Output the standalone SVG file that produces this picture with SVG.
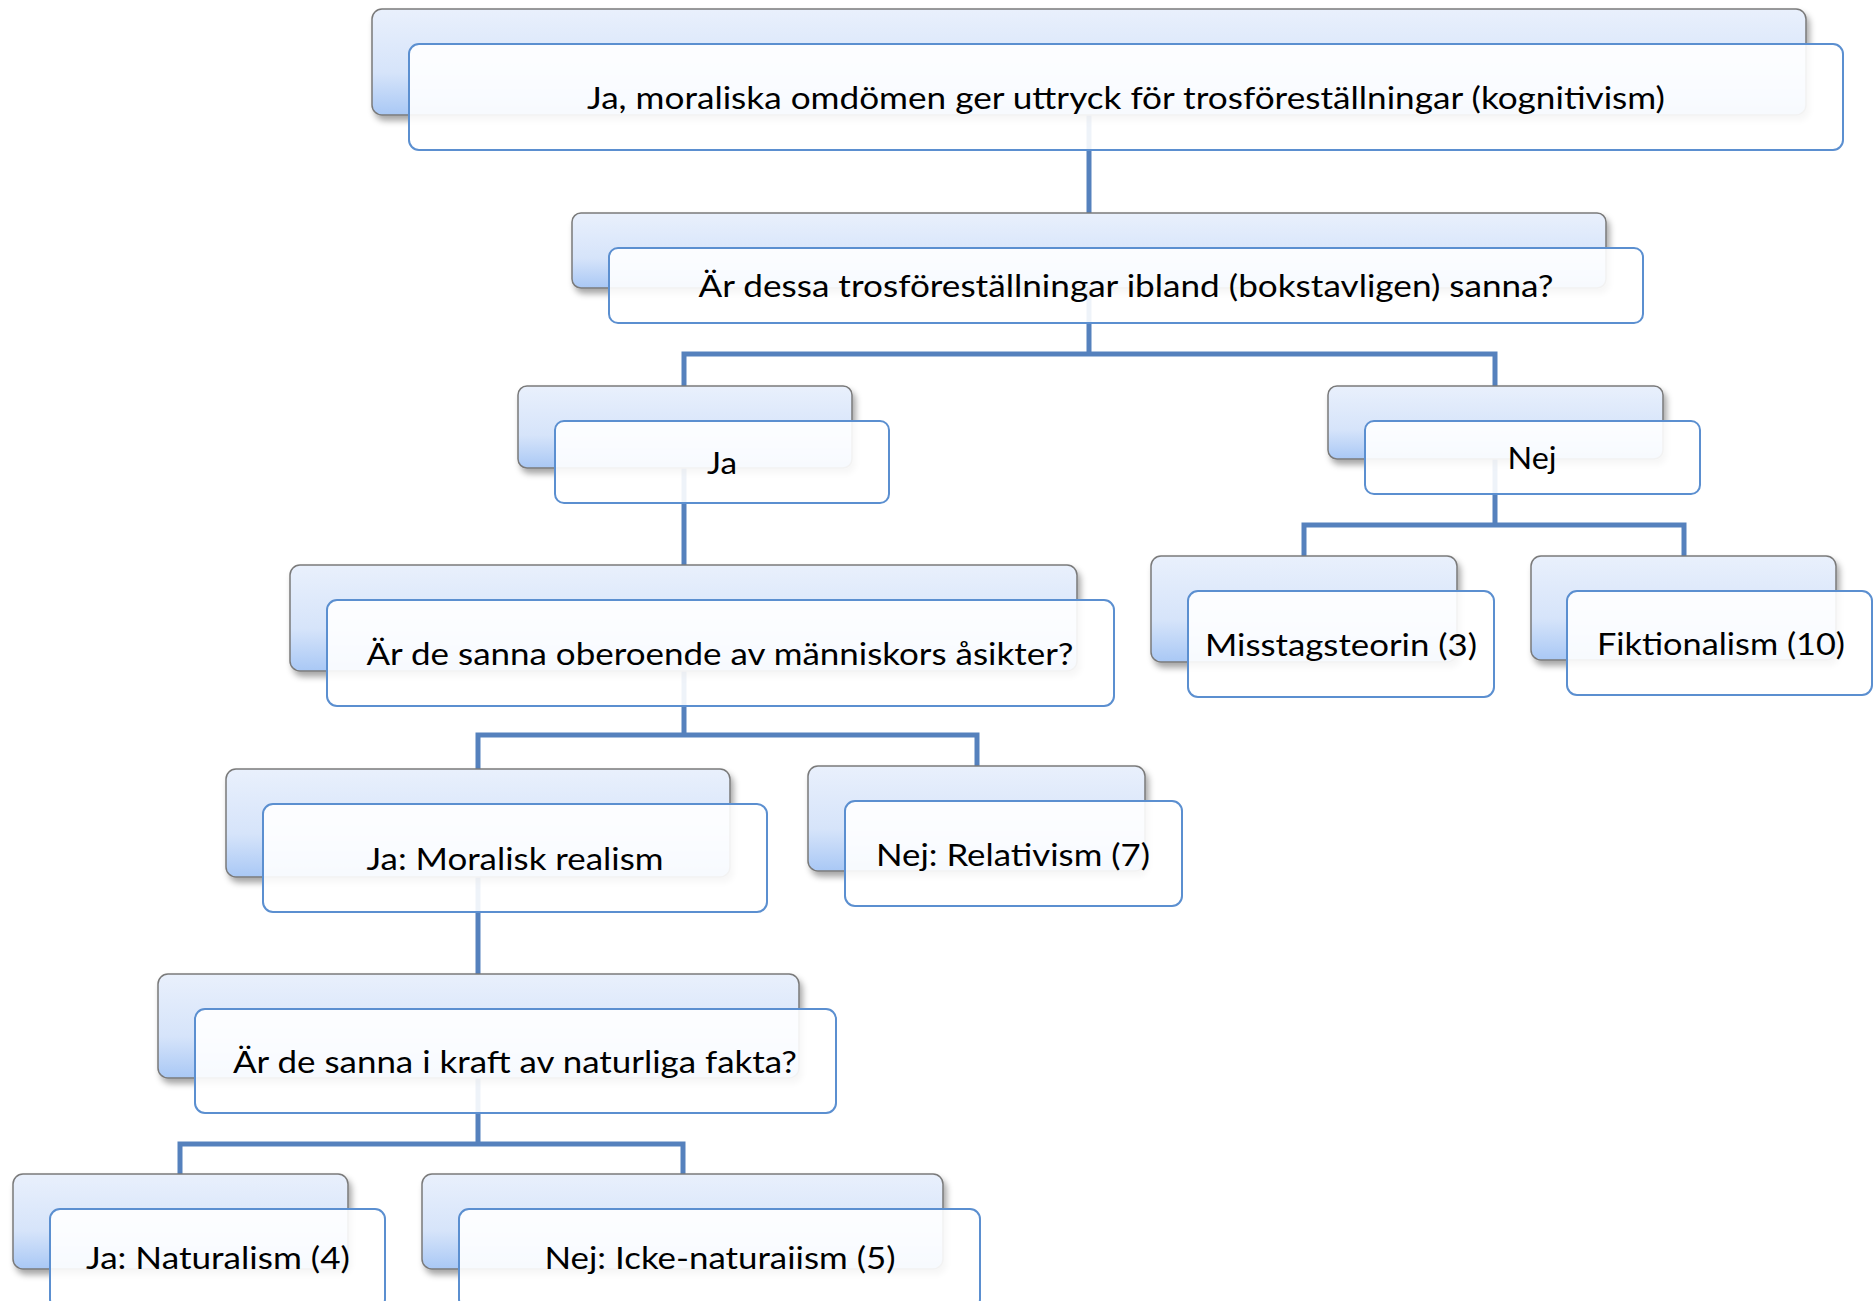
<svg xmlns="http://www.w3.org/2000/svg" width="1874" height="1301" viewBox="0 0 1874 1301">
<defs>
<linearGradient id="bg" x1="0" y1="0" x2="0" y2="1">
<stop offset="0" stop-color="#e9f0fc"/>
<stop offset="0.6" stop-color="#d6e4fa"/>
<stop offset="1" stop-color="#a9c8f5"/>
</linearGradient>
<filter id="sh" x="-10%" y="-20%" width="130%" height="150%">
<feDropShadow dx="3" dy="5" stdDeviation="3" flood-color="#000" flood-opacity="0.35"/>
</filter>
</defs>
<style>
.back{fill:url(#bg);stroke:#7a7a7a;stroke-width:1.5;filter:url(#sh)}
.front{fill:#ffffff;fill-opacity:0.9;stroke:#5b8fd0;stroke-width:2}
.lbl{font-family:Lato,"Liberation Sans",sans-serif;font-size:31px;fill:#000;text-anchor:middle}
.con{fill:none;stroke:#5581bd;stroke-width:5}
</style>
<rect width="1874" height="1301" fill="#fff"/>
<g id="connectors">
<path class="con" d="M1089 100 V213"/>
<path class="con" d="M1089 280 V354 M684 386 V354 H1495 V386"/>
<path class="con" d="M684 460 V565"/>
<path class="con" d="M684 660 V735 M478 769 V735 H977 V766"/>
<path class="con" d="M478 870 V974"/>
<path class="con" d="M478 1070 V1144 M180 1174 V1144 H683 V1174"/>
<path class="con" d="M1495 450 V525 M1304 556 V525 H1684 V556"/>
</g>
<g id="n1">
<rect class="back" x="372" y="9" width="1434" height="106" rx="10"/>
<rect class="front" x="409" y="44" width="1434" height="106" rx="10"/>
<text class="lbl" x="1126" y="109" textLength="1078" lengthAdjust="spacingAndGlyphs">Ja, moraliska omdömen ger uttryck för trosföreställningar (kognitivism)</text>
</g>
<g id="n2">
<rect class="back" x="572" y="213" width="1034" height="75" rx="9"/>
<rect class="front" x="609" y="248" width="1034" height="75" rx="9"/>
<text class="lbl" x="1126" y="297" textLength="855" lengthAdjust="spacingAndGlyphs">Är dessa trosföreställningar ibland (bokstavligen) sanna?</text>
</g>
<g id="n3">
<rect class="back" x="518" y="386" width="334" height="82" rx="9"/>
<rect class="front" x="555" y="421" width="334" height="82" rx="9"/>
<text class="lbl" x="722" y="474" textLength="30" lengthAdjust="spacingAndGlyphs">Ja</text>
</g>
<g id="n4">
<rect class="back" x="1328" y="386" width="335" height="73" rx="9"/>
<rect class="front" x="1365" y="421" width="335" height="73" rx="9"/>
<text class="lbl" x="1532" y="469" textLength="49" lengthAdjust="spacingAndGlyphs">Nej</text>
</g>
<g id="n5">
<rect class="back" x="290" y="565" width="787" height="106" rx="10"/>
<rect class="front" x="327" y="600" width="787" height="106" rx="10"/>
<text class="lbl" x="720" y="665" textLength="707" lengthAdjust="spacingAndGlyphs">Är de sanna oberoende av människors åsikter?</text>
</g>
<g id="n6">
<rect class="back" x="226" y="769" width="504" height="108" rx="10"/>
<rect class="front" x="263" y="804" width="504" height="108" rx="10"/>
<text class="lbl" x="515" y="870" textLength="297" lengthAdjust="spacingAndGlyphs">Ja: Moralisk realism</text>
</g>
<g id="n7">
<rect class="back" x="808" y="766" width="337" height="105" rx="10"/>
<rect class="front" x="845" y="801" width="337" height="105" rx="10"/>
<text class="lbl" x="1013" y="866" textLength="274" lengthAdjust="spacingAndGlyphs">Nej: Relativism (7)</text>
</g>
<g id="n8">
<rect class="back" x="158" y="974" width="641" height="104" rx="10"/>
<rect class="front" x="195" y="1009" width="641" height="104" rx="10"/>
<text class="lbl" x="515" y="1073" textLength="564" lengthAdjust="spacingAndGlyphs">Är de sanna i kraft av naturliga fakta?</text>
</g>
<g id="n9">
<rect class="back" x="13" y="1174" width="335" height="95" rx="10"/>
<rect class="front" x="50" y="1209" width="335" height="100" rx="10"/>
<text class="lbl" x="218" y="1269" textLength="264" lengthAdjust="spacingAndGlyphs">Ja: Naturalism (4)</text>
</g>
<g id="n10">
<rect class="back" x="422" y="1174" width="521" height="95" rx="10"/>
<rect class="front" x="459" y="1209" width="521" height="100" rx="10"/>
<text class="lbl" x="720" y="1269" textLength="351" lengthAdjust="spacingAndGlyphs">Nej: Icke-naturaiism (5)</text>
</g>
<g id="n11">
<rect class="back" x="1151" y="556" width="306" height="106" rx="10"/>
<rect class="front" x="1188" y="591" width="306" height="106" rx="10"/>
<text class="lbl" x="1341" y="656" textLength="272" lengthAdjust="spacingAndGlyphs">Misstagsteorin (3)</text>
</g>
<g id="n12">
<rect class="back" x="1531" y="556" width="305" height="104" rx="10"/>
<rect class="front" x="1567" y="591" width="305" height="104" rx="10"/>
<text class="lbl" x="1721" y="655" textLength="248" lengthAdjust="spacingAndGlyphs">Fiktionalism (10)</text>
</g>
</svg>
